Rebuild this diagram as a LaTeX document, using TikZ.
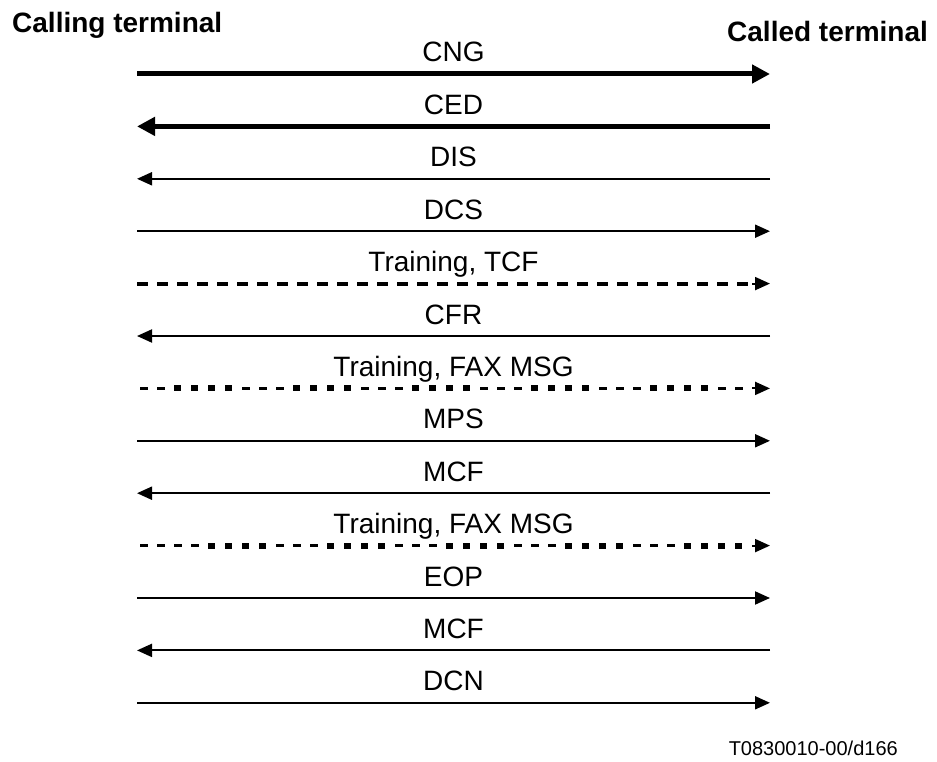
\documentclass[tikz,border=0pt]{standalone}
\usepackage{fontspec}
\setmainfont{Liberation Sans}
\usetikzlibrary{arrows.meta}
\begin{document}
\begin{tikzpicture}[x=1pt,y=-1pt,
  lbl/.style={font=\fontsize{28}{30}\selectfont, anchor=base, inner sep=0pt},
  ttl/.style={font=\fontsize{28}{30}\selectfont\bfseries, anchor=base west, inner sep=0pt},
  heavymsg/.style={line width=5pt, -{Triangle[length=18pt,width=18pt]}},
  thinmsg/.style={line width=2pt, -{Triangle[length=15pt,width=13pt]}},
  dashmsg/.style={line width=4pt, dash pattern=on 11pt off 9pt},
  tipmsg/.style={line width=2pt, -{Triangle[length=15pt,width=13pt]}},
]
\useasboundingbox (0,0) rectangle (937,762);
\fill[white] (0,0) rectangle (937,762);

% titles
\node[ttl] (calling) at (12,33) {Calling terminal};
\node[ttl] (called) at (727,42) {Called terminal};

% rows: coordinates and labels
\foreach \i/\txt in {0/CNG,1/CED,2/DIS,3/DCS,4/{Training, TCF},5/CFR,6/{Training, FAX MSG},7/MPS,8/MCF,9/{Training, FAX MSG},10/EOP,11/MCF,12/DCN}{
  \pgfmathsetmacro\yy{74+52.4*\i}
  \coordinate (L\i) at (137,\yy);
  \coordinate (R\i) at (770,\yy);
  \coordinate (F\i) at (752,\yy);
  \node[lbl] (lab\i) at (453.5,\yy-12) {\txt};
}

% connectors
\draw[heavymsg] (L0) -- (R0);
\draw[heavymsg] (R1) -- (L1);
\draw[thinmsg] (R2) -- (L2);
\draw[thinmsg] (L3) -- (R3);
\draw[dashmsg] (L4) -- (F4);
\draw[tipmsg] (F4) -- (R4);
\draw[thinmsg] (R5) -- (L5);
\draw[thinmsg] (L7) -- (R7);
\draw[thinmsg] (R8) -- (L8);
\draw[thinmsg] (L10) -- (R10);
\draw[thinmsg] (R11) -- (L11);
\draw[thinmsg] (L12) -- (R12);

% mixed dash (thin dashes and thick squares) lines
\begin{scope}[shift={(L6)}]
  \foreach \k in {0,...,35}{
    \pgfmathtruncatemacro\m{mod(\k,7)}
    \pgfmathsetmacro\xx{3+17*\k}
    \ifcase\m
      \fill (\xx,-1.2) rectangle ++(7.5,2.4);
    \or
      \fill (\xx,-1.2) rectangle ++(7.5,2.4);
    \or
      \fill (\xx,-3) rectangle ++(7,6);
    \or
      \fill (\xx,-3) rectangle ++(7,6);
    \or
      \fill (\xx,-3) rectangle ++(7,6);
    \or
      \fill (\xx,-3) rectangle ++(7,6);
    \else
      \fill (\xx,-1.2) rectangle ++(7.5,2.4);
    \fi
  }
\end{scope}
\draw[tipmsg] (F6) -- (R6);

\begin{scope}[shift={(L9)}]
  \foreach \k in {0,...,35}{
    \pgfmathtruncatemacro\m{mod(\k+5,7)}
    \pgfmathsetmacro\xx{3+17*\k}
    \ifnum\k<4 \def\m{0}\fi
    \ifcase\m
      \fill (\xx,-1.2) rectangle ++(7.5,2.4);
    \or
      \fill (\xx,-1.2) rectangle ++(7.5,2.4);
    \or
      \fill (\xx,-3) rectangle ++(7,6);
    \or
      \fill (\xx,-3) rectangle ++(7,6);
    \or
      \fill (\xx,-3) rectangle ++(7,6);
    \or
      \fill (\xx,-3) rectangle ++(7,6);
    \else
      \fill (\xx,-1.2) rectangle ++(7.5,2.4);
    \fi
  }
\end{scope}
\draw[tipmsg] (F9) -- (R9);

% footer
\node[font=\fontsize{20}{22}\selectfont, anchor=base east, inner sep=0pt] (ref) at (898,755) {T0830010-00/d166};
\end{tikzpicture}
\end{document}
